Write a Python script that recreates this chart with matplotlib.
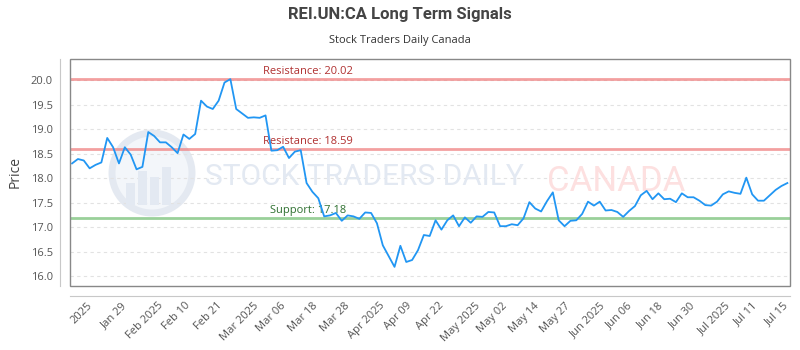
import matplotlib
matplotlib.use("Agg")
import matplotlib.pyplot as plt
from matplotlib.patches import Rectangle, Ellipse
import numpy as np

# closing prices, one per trading day
prices = [
    18.30, 18.39, 18.36, 18.20, 18.27, 18.32, 18.82, 18.63, 18.30, 18.63,
    18.48, 18.18, 18.23, 18.94, 18.86, 18.73, 18.73, 18.63, 18.51, 18.89,
    18.80, 18.90, 19.58, 19.46, 19.41, 19.58, 19.95, 20.02, 19.41, 19.32,
    19.23, 19.24, 19.23, 19.28, 18.56, 18.57, 18.64, 18.41, 18.54, 18.57,
    17.90, 17.72, 17.59, 17.22, 17.24, 17.29, 17.13, 17.24, 17.22, 17.17,
    17.30, 17.29, 17.08, 16.63, 16.41, 16.19, 16.62, 16.29, 16.33, 16.53,
    16.84, 16.82, 17.14, 16.95, 17.14, 17.24, 17.02, 17.20, 17.09, 17.22,
    17.21, 17.31, 17.30, 17.02, 17.02, 17.06, 17.04, 17.18, 17.51, 17.38,
    17.32, 17.53, 17.71, 17.14, 17.02, 17.13, 17.14, 17.27, 17.52, 17.44,
    17.52, 17.34, 17.35, 17.31, 17.21, 17.33, 17.43, 17.65, 17.74, 17.57,
    17.69, 17.57, 17.58, 17.51, 17.69, 17.61, 17.61, 17.54, 17.45, 17.44,
    17.52, 17.67, 17.73, 17.70, 17.68, 18.01, 17.67, 17.54, 17.54, 17.65,
    17.76, 17.84, 17.90,
]

tick_labels = ["2025", "Jan 29", "Feb 2025", "Feb 10", "Feb 21", "Mar 2025",
               "Mar 06", "Mar 18", "Mar 28", "Apr 2025", "Apr 09", "Apr 22",
               "May 2025", "May 02", "May 14", "May 27", "Jun 2025", "Jun 06",
               "Jun 18", "Jun 30", "Jul 2025", "Jul 11", "Jul 15"]
tick_idx = [1.7, 7.1, 12.5, 17.8, 23.2, 28.6, 34.0, 39.4, 44.8, 50.2, 55.6,
            61.0, 66.4, 71.7, 77.1, 82.5, 87.9, 93.3, 98.7, 104.1, 109.5,
            114.9, 120.2]

resistance = [20.02, 18.59]
support = [17.18]

plt.rcParams['font.family'] = ['Open Sans', 'DejaVu Sans']

fig = plt.figure(figsize=(8, 3.5), dpi=100)
ax = fig.add_axes([70 / 800, 1 - 286 / 350, 720 / 800, 227 / 350])

x = np.arange(len(prices))

# watermark logo + text (figure pixel coords -> fractions)
cx, cy, r = 152, 173, 40
ax.add_patch(Ellipse((cx / 800, 1 - cy / 350), 2 * r / 800, 2 * r / 350,
                     transform=fig.transFigure, facecolor='#f3f6fa',
                     edgecolor='#e4e9f1', lw=5, clip_on=False, zorder=0.5))
for bx, bh in [(126, 22), (138, 34), (150, 28), (162, 38)]:
    ax.add_patch(Rectangle((bx / 800, 1 - 205 / 350), 9 / 800, bh / 350,
                           transform=fig.transFigure, facecolor='#e3e9f2',
                           clip_on=False, zorder=0.6))
ax.text(0.188, 0.48, "STOCK TRADERS DAILY", transform=ax.transAxes,
        fontsize=21.5, family=['Roboto', 'DejaVu Sans'],
        color='#e3e9f2', va='center', zorder=0.7)
ax.text(0.662, 0.46, "CANADA", transform=ax.transAxes, fontsize=25,
        family=['Roboto', 'DejaVu Sans'], color='#fde0e0',
        va='center', zorder=0.7)

for v in resistance:
    ax.axhline(v, color='#f08080', lw=2, alpha=0.75, zorder=2)
    ax.text(32.5, v + 0.05, f"Resistance: {v:.2f}", color='#b03030',
            fontsize=8, va='bottom', zorder=3)
for v in support:
    ax.axhline(v, color='#88c888', lw=2, alpha=0.85, zorder=2)
    ax.text(33.7, v + 0.05, f"Support: {v:.2f}", color='#2e7030',
            fontsize=8, va='bottom', zorder=3)

ax.plot(x, prices, color='#2196f3', lw=1.3, zorder=4)

ax.set_xlim(-0.35, len(prices) - 0.55)
ax.set_ylim(15.8, 20.43)
ax.set_yticks(np.arange(16.0, 20.01, 0.5))
ax.yaxis.set_major_formatter(matplotlib.ticker.FormatStrFormatter('%.1f'))
ax.grid(axis='y', color='#e2e2e2', ls=(0, (3, 3)), lw=0.8, zorder=1)
ax.set_axisbelow(True)

ax.set_xticks(tick_idx)
ax.set_xticklabels(tick_labels)
ax.tick_params(axis='both', length=0, labelsize=8, colors='#555555')
ax.tick_params(axis='y', pad=5)
ax.tick_params(axis='x', pad=3, labelrotation=45)
for lab in ax.get_xticklabels():
    lab.set_horizontalalignment('right')
    lab.set_rotation_mode('anchor')

for s in ['top', 'right']:
    ax.spines[s].set_visible(False)
for s in ['left', 'bottom']:
    ax.spines[s].set_position(('outward', 7.2))
    ax.spines[s].set_color('#c8c8c8')
ax.add_patch(Rectangle((0, 0), 1, 1, transform=ax.transAxes, fill=False,
                       edgecolor='#888888', lw=1, clip_on=False, zorder=5))

ax.set_ylabel("Price", fontsize=10, color='#444444', labelpad=6)

fig.text(0.5, 1 - 15 / 350, "REI.UN:CA Long Term Signals", ha='center',
         va='center', fontsize=12, fontweight='bold', color='#444444',
         family=['Roboto', 'DejaVu Sans'])
fig.text(0.5, 1 - 40 / 350, "Stock Traders Daily Canada", ha='center',
         va='center', fontsize=8, color='#333333')

fig.savefig("out.png", dpi=100)
